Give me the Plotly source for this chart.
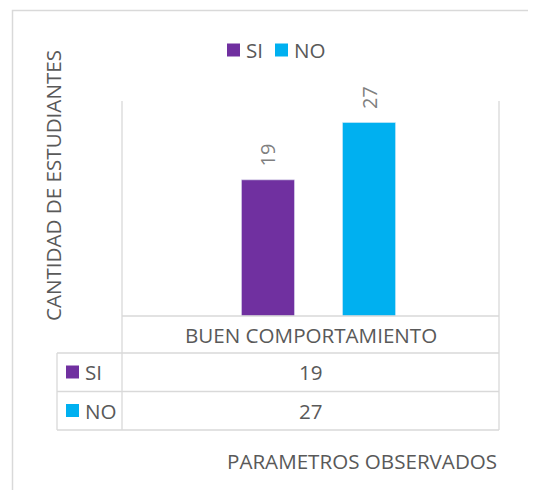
import plotly.graph_objects as go

categories = ["BUEN COMPORTAMIENTO"]
series_names = ["SI", "NO"]
si_values = [19]
no_values = [27]
colors = ["#7030A0", "#00B0F0"]
x_title = "PARAMETROS OBSERVADOS"
y_title = "CANTIDAD DE ESTUDIANTES"

W, H = 536, 490
OFF = 8  # page body margin
# plot area in page pixels
L, R, T, B = 122, 499, 101, 316
PW, PH = R - L, B - T

def fx(px):
    return (px - L) / PW

def fy(py):
    return 1 - (py - T) / PH

FONT = "Open Sans"
TXT = "#595959"
GRID = "#D9D9D9"
FS = 20.6

fig = go.Figure()
series = [si_values, no_values]
for name, vals, col in zip(series_names, series, colors):
    fig.add_trace(go.Bar(
        x=categories, y=vals, name=name, marker_color=col,
        text=[f"\u00a0\u00a0{v}" for v in vals],
        textposition="outside", textangle=-90, cliponaxis=False,
        constraintext="none",
        textfont=dict(family=FONT, size=20, color="#7F7F7F"),
        showlegend=False,
    ))

shapes = []
line = dict(color=GRID, width=1.3)
# outer chart border
shapes.append(dict(type="rect", xref="paper", yref="paper",
                   x0=fx(12.5), x1=fx(560), y0=fy(10.5), y1=fy(520),
                   line=dict(color=GRID, width=1.5)))
# plot/table verticals
for xv in (L, R):
    shapes.append(dict(type="line", xref="paper", yref="paper",
                       x0=fx(xv), x1=fx(xv), y0=fy(T), y1=fy(430), line=line))
shapes.append(dict(type="line", xref="paper", yref="paper",
                   x0=fx(57), x1=fx(57), y0=fy(353), y1=fy(430), line=line))
# horizontal table lines
shapes.append(dict(type="line", xref="paper", yref="paper",
                   x0=fx(L), x1=fx(R), y0=fy(B), y1=fy(B), line=line))
for yv in (353, 391.5, 430):
    shapes.append(dict(type="line", xref="paper", yref="paper",
                       x0=fx(57), x1=fx(R), y0=fy(yv), y1=fy(yv), line=line))

annotations = []
# legend (top)
leg = [(227, 244), (275, 292)]
for (sx, tx), name, col in zip(leg, series_names, colors):
    shapes.append(dict(type="rect", xref="paper", yref="paper",
                       x0=fx(sx), x1=fx(sx + 13), y0=fy(43.5), y1=fy(56.5),
                       fillcolor=col, line=dict(width=0)))
    annotations.append(dict(xref="paper", yref="paper", x=fx(tx), y=fy(50),
                            text=name, showarrow=False, xanchor="left", yanchor="middle",
                            font=dict(family=FONT, size=FS, color=TXT)))

# table: category header
annotations.append(dict(xref="paper", yref="paper", x=fx((L + R) / 2), y=fy(334.5),
                        text=categories[0], showarrow=False, xanchor="center", yanchor="middle",
                        font=dict(family=FONT, size=FS, color=TXT)))
# table rows
row_centers = [372, 410.5]
for yc, name, vals, col in zip(row_centers, series_names, series, colors):
    shapes.append(dict(type="rect", xref="paper", yref="paper",
                       x0=fx(66), x1=fx(79), y0=fy(yc - 6.5), y1=fy(yc + 6.5),
                       fillcolor=col, line=dict(width=0)))
    annotations.append(dict(xref="paper", yref="paper", x=fx(83), y=fy(yc),
                            text=name, showarrow=False, xanchor="left", yanchor="middle",
                            font=dict(family=FONT, size=FS, color=TXT)))
    annotations.append(dict(xref="paper", yref="paper", x=fx((L + R) / 2), y=fy(yc),
                            text=str(vals[0]), showarrow=False, xanchor="center", yanchor="middle",
                            font=dict(family=FONT, size=FS, color=TXT)))

# axis titles
annotations.append(dict(xref="paper", yref="paper", x=fx(362), y=fy(461),
                        text=x_title, showarrow=False, xanchor="center", yanchor="middle",
                        font=dict(family=FONT, size=FS, color=TXT)))
annotations.append(dict(xref="paper", yref="paper", x=fx(53), y=fy(186),
                        text=y_title, showarrow=False, textangle=-90,
                        xanchor="center", yanchor="middle",
                        font=dict(family=FONT, size=FS, color=TXT)))

shift = 8 / PW  # bars sit slightly right of the plot centre in the original
fig.update_layout(
    width=W, height=H,
    margin=dict(l=L - OFF, r=W - (R - OFF), t=T - OFF, b=H - (B - OFF), pad=0),
    paper_bgcolor="white", plot_bgcolor="white",
    barmode="group", bargap=0.464, bargroupgap=0.475,
    xaxis=dict(range=[-0.5 - shift, 0.5 - shift], showticklabels=False, showgrid=False,
               zeroline=False, showline=False, ticks=""),
    yaxis=dict(range=[0, 30], showticklabels=False, showgrid=False, zeroline=False,
               showline=False, ticks=""),
    shapes=shapes, annotations=annotations,
    font=dict(family=FONT, color=TXT),
)

fig.write_html("out.html")
